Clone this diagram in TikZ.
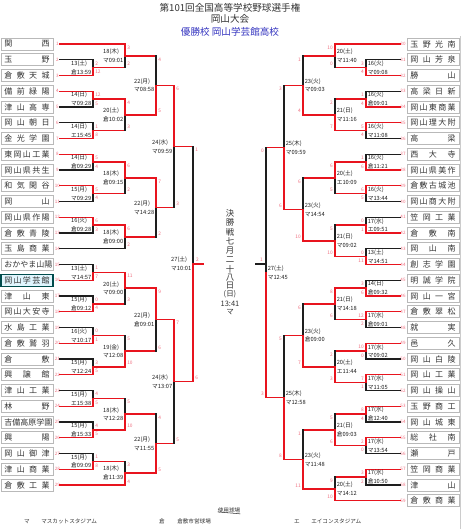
\documentclass[tikz,border=0pt]{standalone}
\usepackage{fontspec}
\setmainfont{Noto Sans CJK JP}
\definecolor{R}{HTML}{E8141E}
\definecolor{K}{HTML}{1E1E1E}
\definecolor{SC}{HTML}{F07080}
\definecolor{TX}{HTML}{333333}
\definecolor{BL}{HTML}{3535C0}
\newcommand\tnm[1]{\makebox[34pt][s]{#1}}
\tikzset{
  ln/.style={line width=1.1pt,line cap=rect},
  team/.style={draw=gray!55,line width=0.7pt,fill=white,minimum width=39pt,minimum height=9pt,inner sep=0pt,text=TX,font=\fontsize{6}{6}\selectfont},
  champ/.style={team,draw=teal!60!black,line width=1pt,fill=cyan!12},
  num/.style={text=SC,font=\fontsize{3.4}{3.4}\selectfont,inner sep=0pt},
  sc/.style={text=SC,font=\fontsize{3.6}{3.6}\selectfont,inner sep=0pt},
  lab/.style={text=K,font=\fontsize{4.3}{6.6}\selectfont,inner sep=0pt,align=left},
  ttl/.style={text=TX,font=\fontsize{7.2}{8}\selectfont,inner sep=0pt},
  leg/.style={text=TX,font=\fontsize{4.2}{5}\selectfont,inner sep=0pt}
}
\begin{document}
\begin{tikzpicture}[x=0.75pt,y=-0.75pt]
\useasboundingbox (0,0) rectangle (462,529);
\fill[white] (0,0) rectangle (462,529);
% titles
\node[ttl] (title) at (230,7.5) {第101回全国高等学校野球選手権};
\node[ttl] (sub) at (230,18.5) {岡山大会};
\node[ttl,text=BL] (winner) at (230,32) {優勝校 岡山学芸館高校};
% frame line right
\draw[gray!40,line width=0.6pt] (460.5,36) -- (460.5,529);
% left teams
\foreach \n/\y/\t in {1/44/{関\hfill 西},2/59.75/{玉\hfill 野},3/75.5/{倉\hfill 敷\hfill 天\hfill 城},4/91.25/{備\hfill 前\hfill 緑\hfill 陽},5/107/{津\hfill 山\hfill 高\hfill 専},6/122.75/{岡\hfill 山\hfill 朝\hfill 日},7/138.5/{金\hfill 光\hfill 学\hfill 園},8/154.25/{東\hfill 岡\hfill 山\hfill 工\hfill 業},9/170/{岡\hfill 山\hfill 県\hfill 共\hfill 生},10/185.75/{和\hfill 気\hfill 閑\hfill 谷},11/201.5/{岡\hfill 山},12/217.25/{岡\hfill 山\hfill 県\hfill 作\hfill 陽},13/233/{倉\hfill 敷\hfill 青\hfill 陵},14/248.75/{玉\hfill 島\hfill 商\hfill 業},15/264.5/{お\hfill か\hfill や\hfill ま\hfill 山\hfill 陽},17/296/{津\hfill 山\hfill 東},18/311.75/{岡\hfill 山\hfill 大\hfill 安\hfill 寺},19/327.5/{水\hfill 島\hfill 工\hfill 業},20/343.25/{倉\hfill 敷\hfill 鷲\hfill 羽},21/359/{倉\hfill 敷},22/374.75/{興\hfill 譲\hfill 館},23/390.5/{津\hfill 山\hfill 工\hfill 業},24/406.25/{林\hfill 野},25/422/{吉\hfill 備\hfill 高\hfill 原\hfill 学\hfill 園},26/437.75/{興\hfill 陽},27/453.5/{岡\hfill 山\hfill 御\hfill 津},28/469.25/{津\hfill 山\hfill 商\hfill 業},29/485/{倉\hfill 敷\hfill 工\hfill 業}}{
  \node[team] (L\n) at (27,\y) {\tnm{\t}};
  \node[num] at (57.5,\y) {\n};
}
\node[champ] (L16) at (27,280.25) {\tnm{岡\hfill 山\hfill 学\hfill 芸\hfill 館}};
\node[num] at (57.5,280.25) {16};
% right teams
\foreach \n/\y/\t in {30/44/{玉\hfill 野\hfill 光\hfill 南},31/59.75/{岡\hfill 山\hfill 芳\hfill 泉},32/75.5/{勝\hfill 山},33/91.25/{高\hfill 梁\hfill 日\hfill 新},34/107/{岡\hfill 山\hfill 東\hfill 商\hfill 業},35/122.75/{岡\hfill 山\hfill 理\hfill 大\hfill 附},36/138.5/{高\hfill 梁},37/154.25/{西\hfill 大\hfill 寺},38/170/{岡\hfill 山\hfill 県\hfill 美\hfill 作},39/185.75/{倉\hfill 敷\hfill 古\hfill 城\hfill 池},40/201.5/{岡\hfill 山\hfill 商\hfill 大\hfill 附},41/217.25/{笠\hfill 岡\hfill 工\hfill 業},42/233/{倉\hfill 敷\hfill 南},43/248.75/{岡\hfill 山\hfill 南},44/264.5/{創\hfill 志\hfill 学\hfill 園},45/280.25/{明\hfill 誠\hfill 学\hfill 院},46/296/{岡\hfill 山\hfill 一\hfill 宮},47/311.75/{倉\hfill 敷\hfill 翠\hfill 松},48/327.5/{就\hfill 実},49/343.25/{邑\hfill 久},50/359/{岡\hfill 山\hfill 白\hfill 陵},51/374.75/{岡\hfill 山\hfill 工\hfill 業},52/390.5/{岡\hfill 山\hfill 操\hfill 山},53/406.25/{玉\hfill 野\hfill 商\hfill 工},54/422/{岡\hfill 山\hfill 城\hfill 東},55/437.75/{総\hfill 社\hfill 南},56/453.5/{瀬\hfill 戸},57/469.25/{笠\hfill 岡\hfill 商\hfill 業},58/485/{津\hfill 山},59/500.75/{倉\hfill 敷\hfill 商\hfill 業}}{
  \node[team] (T\n) at (433,\y) {\tnm{\t}};
  \node[num] at (403,\y) {\n};
}
% left matches: xv/xa/yt/ct/xb/yb/cb/vt/vb/st/sb/date/time
\foreach \xv/\xa/\yt/\ct/\xb/\yb/\cb/\vt/\vb/\st/\sb/\la/\lb in {
93/60/59.75/K/60/75.5/R/K/R/2/12/13(土)/倉13:59,
93/60/91.25/R/60/107/K/R/K/12/5/14(日)/マ09:28,
93/60/122.75/K/60/138.5/R/K/R/1/8/14(日)/エ15:45,
93/60/154.25/R/60/170/K/R/K/5/4/14(日)/倉09:29,
93/60/185.75/R/60/201.5/K/R/K/5/4/15(月)/マ09:29,
93/60/217.25/R/60/233/K/R/K/6/3/16(火)/倉09:28,
93/60/264.5/K/60/280.25/R/K/R/1/7/13(土)/マ14:57,
93/60/296/K/60/311.75/R/K/R/0/4/15(月)/倉09:12,
93/60/327.5/K/60/343.25/R/K/R/0/1/16(火)/マ10:17,
93/60/359/K/60/374.75/R/K/R/3/5/15(月)/マ12:24,
93/60/390.5/K/60/406.25/R/K/R/4/5/15(月)/エ15:38,
93/60/422/K/60/437.75/R/K/R/4/5/15(月)/倉15:33,
93/60/453.5/K/60/469.25/R/K/R/1/8/15(月)/倉09:09,
125/60/44/R/93/67.625/R/R/K/3/2/18(木)/マ09:01,
125/93/99.125/R/93/130.625/R/R/K/4/3/20(土)/倉10:02,
125/93/162.125/R/93/193.625/R/R/K/6/2/18(木)/倉09:15,
125/93/225.125/R/60/248.75/K/R/K/6/2/18(木)/倉09:00,
125/93/272.375/R/93/303.875/R/R/K/11/3/20(土)/マ09:00,
125/93/335.375/R/93/366.875/R/K/R/5/10/19(金)/マ12:08,
125/93/398.375/R/93/429.875/R/K/R/5/10/18(木)/マ12:28,
125/93/461.375/R/60/485/R/K/R/3/4/18(木)/倉11:39,
156/125/55.8125/R/125/114.875/R/K/R/4/5/22(月)/マ08:58,
156/125/177.875/R/125/236.9375/R/R/K/7/2/22(月)/マ14:28,
156/125/288.125/R/125/351.125/R/R/K/9/6/22(月)/倉09:01,
156/125/414.125/R/125/473.1875/R/K/R/4/5/22(月)/マ11:55,
174/156/85.34/R/156/207.41/R/R/K/6/3/24(水)/マ09:59,
174/156/319.625/R/156/443.66/R/R/K/7/5/24(水)/マ13:07,
193/174/146.375/R/174/381.64/R/K/R/1/6/27(土)/マ10:01}{
  \draw[ln,draw=\ct] (\xa,\yt) -- (\xv,\yt) -- (\xv,{(\yt+\yb)/2});
  \draw[ln,draw=\cb] (\xb,\yb) -- (\xv,\yb) -- (\xv,{(\yt+\yb)/2});
  \draw[ln,draw=\vt] (\xv,\yt) -- (\xv,{(\yt+\yb)/2});
  \draw[ln,draw=\vb] (\xv,\yb) -- (\xv,{(\yt+\yb)/2});
  \node[sc,anchor=west] at (\xv+2,\yt+3.6) {\st};
  \node[sc,anchor=west] at (\xv+2,\yb-3.6) {\sb};
  \node[lab,anchor=east] at (\xv-1.5,{(\yt+\yb)/2}) {\la\\\lb};
}
% right matches
\foreach \xv/\xa/\yt/\ct/\xb/\yb/\cb/\vt/\vb/\st/\sb/\la/\lb in {
366/400/59.75/K/400/75.5/R/K/R/3/4/16(火)/マ09:08,
366/400/91.25/K/400/107/R/K/R/1/4/16(火)/倉09:01,
366/400/122.75/R/400/138.5/K/R/K/5/4/16(火)/マ11:08,
366/400/154.25/K/400/170/R/K/R/1/6/16(火)/倉11:21,
366/400/185.75/R/400/201.5/K/R/K/6/5/16(火)/マ13:44,
366/400/217.25/K/400/233/R/K/R/0/1/17(水)/エ09:51,
366/400/248.75/K/400/264.5/R/K/R/0/11/13(土)/マ14:51,
366/400/280.25/K/400/296/R/K/R/3/6/14(日)/倉09:32,
366/400/311.75/R/400/327.5/K/R/K/12/2/17(水)/倉09:01,
366/400/343.25/R/400/359/K/R/K/10/0/17(水)/マ09:02,
366/400/374.75/R/400/390.5/K/R/K/7/1/17(水)/マ11:05,
366/400/406.25/R/400/422/K/R/K/8/4/17(水)/倉12:40,
366/400/437.75/R/400/453.5/K/R/K/2/0/17(水)/マ13:54,
366/400/469.25/R/400/485/K/R/K/3/2/17(水)/倉10:50,
335/400/44/R/366/67.625/R/R/K/10/0/20(土)/マ11:40,
335/366/99.125/R/366/130.625/R/K/R/2/7/21(日)/マ11:16,
335/366/162.125/R/366/193.625/R/R/K/6/5/20(土)/エ10:09,
335/366/225.125/R/366/256.625/R/K/R/5/10/21(日)/マ09:02,
335/366/288.125/R/366/319.625/R/R/K/8/6/21(日)/マ14:18,
335/366/351.125/R/366/382.625/R/K/R/2/3/20(土)/エ11:44,
335/366/414.125/R/366/445.625/R/K/R/5/6/21(日)/倉09:03,
335/366/477.125/R/400/500.75/R/K/R/9/10/20(土)/マ14:12,
303/335/55.8125/R/335/114.875/R/K/R/1/4/23(火)/マ09:03,
303/335/177.875/R/335/240.875/R/K/R/6/10/23(火)/マ14:54,
303/335/303.875/R/335/366.875/R/K/R/6/7/23(火)/倉09:00,
303/335/429.875/R/335/488.9375/R/K/R/1/11/23(火)/マ11:48,
284/303/85.34/R/303/209.375/R/K/R/3/6/25(木)/マ09:59,
284/303/335.375/R/303/459.41/R/K/R/5/8/25(木)/マ12:58,
266/284/147.36/R/284/397.39/R/K/R/0/3/27(土)/マ12:45}{
  \draw[ln,draw=\ct] (\xa,\yt) -- (\xv,\yt) -- (\xv,{(\yt+\yb)/2});
  \draw[ln,draw=\cb] (\xb,\yb) -- (\xv,\yb) -- (\xv,{(\yt+\yb)/2});
  \draw[ln,draw=\vt] (\xv,\yt) -- (\xv,{(\yt+\yb)/2});
  \draw[ln,draw=\vb] (\xv,\yb) -- (\xv,{(\yt+\yb)/2});
  \node[sc,anchor=east] at (\xv-2,\yt+3.6) {\st};
  \node[sc,anchor=east] at (\xv-2,\yb-3.6) {\sb};
  \node[lab,anchor=west] at (\xv+1.5,{(\yt+\yb)/2}) {\la\\\lb};
}
% final
\coordinate (fl) at (203,264);
\coordinate (fr) at (256,264);
\draw[ln,R] (193,264) -- (fl);
\draw[ln,K] (fr) -- (266,264);
\node[sc] at (197.5,259.5) {2};
\node[sc] at (261.5,259.5) {1};
\foreach \c/\y in {決/213,勝/222.5,戦/232,七/241.5,月/251,二/260,十/269,八/277.5,日/285.5}{
  \node[text=TX,font=\fontsize{6.3}{7}\selectfont,inner sep=0pt] at (230,\y) {\c};
}
\node[text=TX,font=\fontsize{5.6}{7}\selectfont,inner sep=0pt] (fd) at (230,294) {(日)};
\node[text=TX,font=\fontsize{5.6}{7}\selectfont,inner sep=0pt] (ft) at (230,303.5) {13:41};
\node[text=TX,font=\fontsize{5.6}{7}\selectfont,inner sep=0pt] (fv) at (230,312.5) {マ};
% legend
\node[leg] (use) at (229,510) {使用球場};
\draw[TX,line width=0.4pt] (use.south west) ++(0,-1) -- ([yshift=-0.75pt]use.south east);
\node[leg] at (27,521.5) {マ};
\node[leg,anchor=west] at (41,521.5) {マスカットスタジアム};
\node[leg] at (162,521.5) {倉};
\node[leg,anchor=west] at (177,521.5) {倉敷市営球場};
\node[leg] at (297,521.5) {エ};
\node[leg,anchor=west] at (311,521.5) {エイコンスタジアム};
\end{tikzpicture}
\end{document}
